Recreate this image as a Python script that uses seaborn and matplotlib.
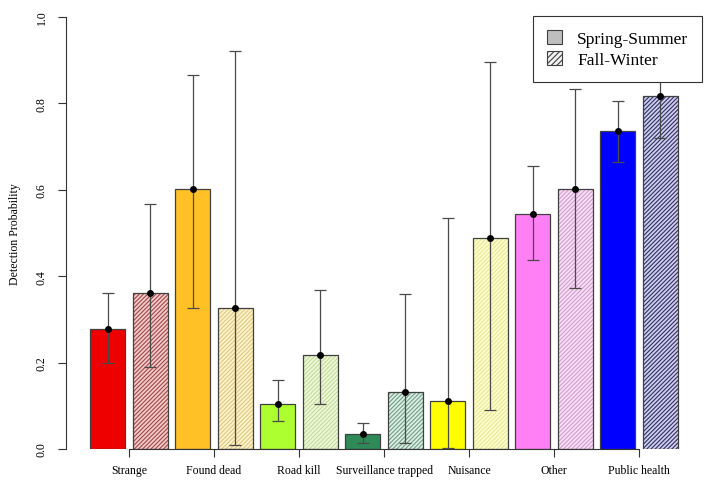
import pandas as pd
import matplotlib
matplotlib.use('Agg')
import matplotlib.pyplot as plt
import seaborn as sns
from matplotlib.patches import Patch


categories = ['Strange', 'Found dead', 'Road kill', 'Surveillance trapped',
              'Nuisance', 'Other', 'Public health']
seasons = ['Spring-Summer', 'Fall-Winter']

# estimated detection probabilities and intervals
ss_vals = [0.278, 0.602, 0.105, 0.035, 0.111, 0.545, 0.737]
ss_lo = [0.200, 0.327, 0.065, 0.015, 0.003, 0.437, 0.665]
ss_hi = [0.360, 0.866, 0.160, 0.060, 0.534, 0.654, 0.806]

fw_vals = [0.362, 0.327, 0.218, 0.131, 0.489, 0.602, 0.817]
fw_lo = [0.190, 0.010, 0.105, 0.013, 0.090, 0.372, 0.720]
fw_hi = [0.566, 0.921, 0.367, 0.358, 0.896, 0.833, 0.900]

ss_colors = ['#EE0000', '#FFC125', '#ADFF2F', '#2E8B57', '#FFFF00', '#FF7FF5', '#0000FF']
fw_colors = ['#F2CACA', '#FFF3C8', '#EEF8D8', '#DDEEE4', '#FFFFCC', '#F8DEF6', '#CFCFEA']
fw_hatch = ['#A04848', '#DCC888', '#C4DC9C', '#6E9E86', '#E6E69A', '#D0A0CC', '#2E2E6A']

df = pd.DataFrame({
    'category': categories * 2,
    'season': [seasons[0]] * len(categories) + [seasons[1]] * len(categories),
    'prob': ss_vals + fw_vals,
})

plt.rcParams['font.family'] = ['Liberation Serif', 'DejaVu Serif']
plt.rcParams['hatch.linewidth'] = 0.8

fig = plt.figure(figsize=(7.1, 4.89), dpi=100)
ax = fig.add_axes([66 / 710, 1 - 450 / 489, (705 - 66) / 710, (450 - 18) / 489])

sns.barplot(data=df, x='category', y='prob', hue='season', order=categories,
            hue_order=seasons, errorbar=None, width=1.0, gap=0.18,
            edgecolor='#404040', linewidth=0.9, legend=False, ax=ax)

ss_bars = ax.containers[0]
fw_bars = ax.containers[1]
for bar, c in zip(ss_bars, ss_colors):
    bar.set_facecolor(c)
for bar, c, h in zip(fw_bars, fw_colors, fw_hatch):
    bar.set_facecolor(c)
    bar.set_hatch('////////')
    if hasattr(bar, 'set_hatchcolor'):
        bar.set_hatchcolor(h)
    else:
        bar._hatch_color = matplotlib.colors.to_rgba(h)

# error bars with mean points
for bars, vals, lo, hi in [(ss_bars, ss_vals, ss_lo, ss_hi), (fw_bars, fw_vals, fw_lo, fw_hi)]:
    xs = [b.get_x() + b.get_width() / 2 for b in bars]
    yerr = [[v - l for v, l in zip(vals, lo)], [h - v for v, h in zip(vals, hi)]]
    ax.errorbar(xs, vals, yerr=yerr, fmt='o', color='black', markersize=4,
                ecolor='#4a4a4a', elinewidth=0.9, capsize=4, capthick=0.9, zorder=3)

ax.set_ylim(0, 1)
ax.set_xlim((66 - 129) / 85, (705 - 129) / 85)
ax.set_yticks([0, 0.2, 0.4, 0.6, 0.8, 1.0])
ax.set_yticklabels(['0.0', '0.2', '0.4', '0.6', '0.8', '1.0'], rotation=90, va='center')
ax.tick_params(axis='both', labelsize=8.5, length=6, width=0.8, color='#333333')
ax.tick_params(axis='y', pad=7)
ax.tick_params(axis='x', pad=5)
ax.set_xlabel('')
ax.set_ylabel('Detection Probability', fontsize=8.5, labelpad=11)

for s in ['top', 'right']:
    ax.spines[s].set_visible(False)
ax.spines['left'].set_bounds(0, 1)
ax.spines['bottom'].set_bounds(0, 6)
ax.spines['left'].set_color('#333333')
ax.spines['bottom'].set_color('#333333')
ax.spines['left'].set_linewidth(0.8)
ax.spines['bottom'].set_linewidth(0.8)

handles = [Patch(facecolor='#BEBEBE', edgecolor='#404040', linewidth=0.8),
           Patch(facecolor='#F2F2F2', edgecolor='#404040', linewidth=0.8, hatch='//////')]
leg = ax.legend(handles, seasons, loc='upper right',
                bbox_to_anchor=(702 / 710, 1 - 17 / 489), bbox_transform=fig.transFigure,
                fontsize=12.5, fancybox=False, framealpha=1, edgecolor='#333333',
                handlelength=0.9, handleheight=0.9, handletextpad=0.85,
                borderpad=0.8, labelspacing=0.2, borderaxespad=0)
leg.get_frame().set_linewidth(0.8)
leg.set_zorder(10)

plt.savefig('out.png', dpi=100)
